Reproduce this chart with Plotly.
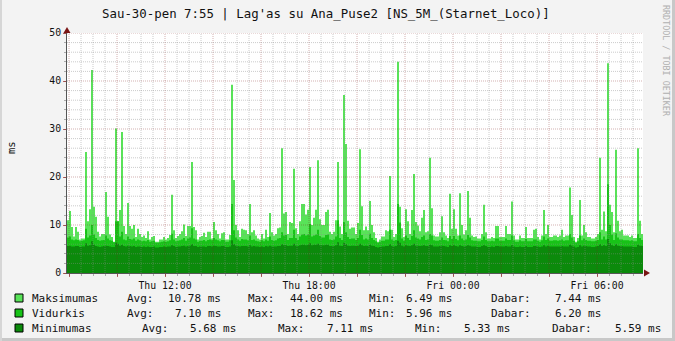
import plotly.graph_objects as go
from datetime import datetime, timedelta

# ---------------- data (5-minute samples, ms) ----------------
maksimumas = [
    11, 12.9, 9.6, 7.6, 9.6, 8.6, 7, 7.2, 7.2, 25.2, 10.8, 13.3,
    42.3, 13.8, 11.7, 8.6, 7.6, 8.1, 8.1, 16.9, 11.7, 8, 7.5, 6.5,
    30.1, 10.8, 13.1, 29.4, 9.8, 8.1, 14.6, 9.8, 9.2, 10, 7.5, 9.2,
    8.1, 7.5, 7.8, 7.3, 8.7, 7, 7.5, 7.7, 6.5, 6.5, 7, 7,
    7.5, 7, 7.3, 7.9, 16.3, 8.9, 7.3, 7.7, 8.1, 8.7, 10.1, 7.7,
    9.8, 9.8, 23.1, 9.6, 8.9, 7, 7.5, 7.7, 8.4, 7.5, 8.6, 8.6,
    7.2, 10.6, 8.9, 8.1, 7.2, 8.3, 8.5, 7, 7, 7.9, 39.2, 19.4,
    10, 8.9, 7.5, 9.2, 9, 8.9, 8.1, 14.4, 8.5, 8.9, 7.8, 7.2,
    7, 8.1, 7.2, 9, 7.5, 12.5, 8.5, 7.8, 8.1, 9.3, 9.5, 26,
    12.4, 12.7, 8.1, 10.6, 10.4, 21.7, 9.3, 8.1, 10.8, 14.4, 14.4, 12.2,
    13.2, 22.1, 10, 11.5, 13.2, 23.5, 11.2, 10, 10, 12.7, 13.2, 8.6,
    8.1, 8.6, 11, 23.1, 9.7, 8.1, 37.1, 26.9, 10.9, 9.2, 9.5, 9.5,
    8.1, 10.4, 25.8, 13.9, 8.9, 9.7, 8.9, 15, 10, 8.5, 7.3, 6.5,
    7, 7.6, 7.6, 8.9, 8.7, 20.2, 9, 7.5, 8.1, 44, 13.8, 9.3,
    7.5, 13.3, 10.8, 8.1, 13.1, 20.6, 10.6, 9.9, 8.7, 11.5, 13.1, 8.5,
    8.7, 24, 13.5, 7.8, 7.6, 7.6, 8.5, 11.8, 8.5, 7.8, 7.3, 16.5,
    9.2, 13.3, 9.2, 7.8, 16.6, 10, 8, 8.9, 17.1, 11.5, 7.8, 7.5,
    7.6, 7.2, 7.2, 8.1, 14.2, 8.5, 7.2, 7.2, 7.5, 7.3, 9.8, 9.8,
    7.5, 7.5, 7.5, 9.8, 8.1, 8.1, 14.9, 7.8, 7, 7, 7.8, 7.3,
    7.3, 9.6, 7.3, 7.3, 7.3, 9, 9.2, 7.5, 7, 7.8, 13.1, 8.1,
    10, 7.5, 7.5, 7.8, 7.8, 7.5, 7.8, 9, 7.5, 7.8, 7.8, 17.8,
    12.1, 7.5, 6.5, 7.3, 15.2, 7.8, 10, 8.5, 7.5, 7.5, 7.2, 7.2,
    7.5, 8.1, 24, 9, 12.8, 8.7, 43.7, 14.2, 12.7, 8.5, 25.7, 10.9,
    8.7, 9, 7.8, 7.8, 7.8, 7.5, 7.8, 7.3, 7.3, 26, 10.9, 8.1,
]

vidurkis = [
    7.4, 7.6, 7.0, 6.8, 7.0, 6.9, 6.6, 6.7, 6.8, 9.2, 7.4, 7.8,
    10.0, 8.0, 7.3, 6.9, 6.7, 6.8, 6.9, 7.8, 7.2, 6.8, 6.7, 6.4,
    10.8, 10.8, 7.6, 8.6, 7.0, 6.8, 7.6, 7.1, 7.0, 7.2, 6.7, 7.0,
    6.8, 6.6, 6.7, 6.6, 6.9, 6.5, 6.6, 6.7, 6.3, 6.3, 6.4, 6.5,
    6.6, 6.5, 6.6, 6.8, 8.2, 7.0, 6.6, 6.7, 6.8, 7.0, 7.3, 6.7,
    7.2, 7.4, 9.3, 7.2, 7.0, 6.5, 6.7, 6.7, 6.9, 6.6, 6.9, 7.0,
    6.8, 7.3, 7.0, 6.8, 6.6, 6.9, 6.9, 6.5, 6.5, 6.8, 14.4, 8.9,
    7.4, 7.0, 6.7, 7.1, 7.0, 7.0, 6.8, 7.8, 6.9, 7.0, 6.7, 6.6,
    6.5, 6.8, 6.6, 7.0, 6.7, 7.6, 6.9, 6.7, 6.8, 7.2, 7.3, 8.5,
    7.8, 7.9, 6.9, 7.3, 7.3, 9.0, 7.3, 6.9, 7.6, 8.0, 8.1, 7.8,
    8.0, 10.2, 7.6, 7.8, 8.0, 9.0, 7.7, 7.4, 7.4, 7.9, 8.0, 7.0,
    6.9, 7.0, 7.6, 11.0, 7.3, 6.9, 10.6, 8.5, 7.5, 7.1, 7.2, 7.2,
    6.9, 7.3, 9.0, 7.9, 7.0, 7.2, 7.0, 8.2, 7.3, 6.9, 6.6, 6.3,
    6.5, 6.7, 6.7, 7.0, 7.0, 9.0, 7.0, 6.7, 6.9, 14.4, 10.5, 7.2,
    6.7, 7.8, 7.3, 6.9, 7.7, 8.9, 7.4, 7.2, 7.0, 7.5, 7.8, 6.9,
    7.0, 8.1, 7.8, 6.8, 6.7, 6.7, 6.9, 7.4, 6.9, 6.8, 6.6, 7.7,
    7.1, 7.7, 7.1, 6.8, 7.8, 7.2, 6.8, 7.0, 7.9, 7.4, 6.8, 6.7,
    6.7, 6.6, 6.6, 6.9, 7.6, 6.9, 6.6, 6.6, 6.7, 6.6, 7.2, 7.2,
    6.7, 6.7, 6.7, 7.2, 6.9, 6.9, 7.8, 6.8, 6.5, 6.5, 6.8, 6.6,
    6.6, 7.1, 6.6, 6.6, 6.6, 7.0, 7.0, 6.7, 6.5, 6.8, 7.6, 6.9,
    7.2, 6.7, 6.7, 6.8, 6.8, 6.7, 6.8, 7.0, 6.7, 6.8, 6.8, 8.1,
    7.4, 6.7, 6.3, 6.6, 7.8, 6.8, 7.2, 6.9, 6.7, 6.7, 6.6, 6.6,
    6.7, 6.9, 8.5, 7.0, 7.6, 7.0, 18.5, 10.0, 8.0, 6.9, 8.3, 7.4,
    7.0, 7.0, 6.8, 6.8, 6.8, 6.7, 6.8, 6.6, 6.6, 8.1, 7.3, 6.9,
]

minimumas = [
    5.6, 5.7, 5.5, 5.5, 5.6, 5.6, 5.4, 5.5, 5.5, 6.2, 5.7, 5.8,
    6.6, 5.9, 5.6, 5.5, 5.4, 5.5, 5.6, 5.7, 5.6, 5.5, 5.4, 5.4,
    6.3, 6.1, 5.7, 5.9, 5.6, 5.5, 5.7, 5.6, 5.5, 5.6, 5.4, 5.5,
    5.5, 5.4, 5.5, 5.4, 5.5, 5.4, 5.4, 5.5, 5.3, 5.3, 5.4, 5.4,
    5.5, 5.4, 5.5, 5.5, 5.8, 5.6, 5.4, 5.5, 5.5, 5.6, 5.7, 5.5,
    5.6, 5.7, 6.0, 5.6, 5.6, 5.4, 5.5, 5.5, 5.5, 5.4, 5.6, 5.6,
    5.5, 5.7, 5.6, 5.5, 5.5, 5.6, 5.6, 5.4, 5.4, 5.5, 6.8, 6.0,
    5.7, 5.6, 5.5, 5.6, 5.6, 5.6, 5.5, 5.8, 5.5, 5.6, 5.5, 5.5,
    5.4, 5.5, 5.4, 5.6, 5.5, 5.7, 5.5, 5.5, 5.5, 5.6, 5.6, 6.0,
    5.8, 5.8, 5.6, 5.7, 5.7, 6.1, 5.7, 5.6, 5.8, 5.9, 5.9, 5.8,
    5.9, 6.2, 5.8, 5.9, 5.9, 6.1, 5.8, 5.8, 5.8, 5.9, 5.9, 5.6,
    5.6, 5.6, 5.8, 6.4, 5.7, 5.6, 6.3, 6.0, 5.7, 5.6, 5.7, 5.7,
    5.6, 5.7, 6.1, 5.8, 5.6, 5.7, 5.6, 5.9, 5.7, 5.6, 5.4, 5.3,
    5.4, 5.5, 5.5, 5.6, 5.6, 6.0, 5.6, 5.5, 5.6, 6.7, 6.3, 5.7,
    5.5, 5.8, 5.7, 5.6, 5.8, 6.1, 5.7, 5.7, 5.6, 5.7, 5.8, 5.6,
    5.6, 5.9, 5.8, 5.5, 5.5, 5.5, 5.6, 5.7, 5.6, 5.5, 5.4, 5.8,
    5.6, 5.8, 5.6, 5.5, 5.8, 5.6, 5.5, 5.6, 5.8, 5.7, 5.5, 5.5,
    5.5, 5.4, 5.4, 5.6, 5.8, 5.6, 5.4, 5.4, 5.5, 5.4, 5.6, 5.6,
    5.5, 5.5, 5.5, 5.6, 5.5, 5.5, 5.8, 5.5, 5.4, 5.4, 5.5, 5.4,
    5.4, 5.6, 5.4, 5.4, 5.4, 5.6, 5.6, 5.5, 5.4, 5.5, 5.8, 5.5,
    5.7, 5.5, 5.5, 5.5, 5.5, 5.5, 5.5, 5.6, 5.5, 5.5, 5.5, 5.9,
    5.7, 5.5, 5.3, 5.4, 5.8, 5.5, 5.7, 5.6, 5.5, 5.5, 5.4, 5.4,
    5.5, 5.6, 6.0, 5.6, 5.8, 5.6, 7.1, 6.2, 5.8, 5.6, 6.0, 5.7,
    5.6, 5.6, 5.5, 5.5, 5.5, 5.5, 5.5, 5.4, 5.4, 5.9, 5.7, 5.6,
]

series_names = ["Maksimumas", "Vidurkis", "Minimumas"]
stat_avg = [10.78, 7.10, 5.68]
stat_max = [44.00, 18.62, 7.11]
stat_min = [6.49, 5.96, 5.33]
stat_now = [7.44, 6.20, 5.59]

title_text = "Sau-30-pen 7:55 | Lag'as su Ana_Puse2 [NS_5M_(Starnet_Loco)]"
y_label = "ms"
watermark = "RRDTOOL / TOBI OETIKER"
x_label_times = ["2015-01-29 12:00", "2015-01-29 18:00", "2015-01-30 00:00", "2015-01-30 06:00"]
x_tick_labels = ["Thu 12:00", "Thu 18:00", "Fri 00:00", "Fri 06:00"]
y_ticks = [0, 10, 20, 30, 40, 50]

# ---------------- layout geometry & style ----------------
W, H = 675, 341
L, R, T, B = 67, 32, 33, 68
PW, PH = W - L - R, H - T - B
FONT = "DejaVu Sans Mono"
colors = ["#58e358", "#17c317", "#0b8a0b"]
MINOR_GRID = "rgba(140,140,140,0.45)"
MAJOR_GRID = "rgba(130,30,30,0.35)"


def px(x):
    return (x - L) / PW


def py(y):
    return (H - B - y) / PH


start = datetime(2015, 1, 29, 7, 55)
end = start + timedelta(hours=24)
step = timedelta(minutes=5)

fig = go.Figure()
for name, vals, col in zip(series_names, [maksimumas, vidurkis, minimumas], colors):
    n = len(vals)
    xs = [start + i * step for i in range(n + 1)]
    ys = list(vals) + [vals[-1]]
    fig.add_trace(go.Scatter(
        x=xs, y=ys, mode="lines", line=dict(width=0, shape="hv", color=col),
        fill="tozeroy", fillcolor=col, name=name, hoverinfo="skip", showlegend=False,
    ))

shapes = []
# vertical grid (30 min minor, 2 h major), drawn above the areas like rrdtool
t = datetime(2015, 1, 29, 8, 0)
while t < end:
    major = (t.minute == 0 and t.hour % 2 == 0)
    shapes.append(dict(type="line", xref="x", yref="paper", x0=t, x1=t, y0=0, y1=1,
                       layer="above",
                       line=dict(color=MAJOR_GRID if major else MINOR_GRID, width=1, dash="1px,1px")))
    t += timedelta(minutes=30)
# horizontal grid (2 minor, 10 major)
for v in range(2, 51, 2):
    major = v % 10 == 0
    shapes.append(dict(type="line", xref="paper", yref="y", x0=0, x1=1, y0=v, y1=v,
                       layer="above",
                       line=dict(color=MAJOR_GRID if major else MINOR_GRID, width=1, dash="1px,1px")))

# axis arrows
ARROW = "#7a1515"
shapes.append(dict(type="path", xref="paper", yref="paper", layer="above",
                   path=f"M {px(L-3.5)} {py(T)} L {px(L)} {py(T-6)} L {px(L+3.5)} {py(T)} Z",
                   fillcolor=ARROW, line=dict(width=0)))
shapes.append(dict(type="path", xref="paper", yref="paper", layer="above",
                   path=f"M {px(W-R+1)} {py(H-B-3.5)} L {px(W-R+7)} {py(H-B)} L {px(W-R+1)} {py(H-B+3.5)} Z",
                   fillcolor=ARROW, line=dict(width=0)))

# frame shading
shapes.append(dict(type="rect", xref="paper", yref="paper", layer="above",
                   x0=px(W - 3), x1=px(W), y0=py(H), y1=py(0), fillcolor="#c8c8c8", line=dict(width=0)))
shapes.append(dict(type="rect", xref="paper", yref="paper", layer="above",
                   x0=px(0), x1=px(W), y0=py(H), y1=py(H - 3), fillcolor="#c8c8c8", line=dict(width=0)))
shapes.append(dict(type="rect", xref="paper", yref="paper", layer="above",
                   x0=px(0), x1=px(2), y0=py(H), y1=py(0), fillcolor="#d6d6d6", line=dict(width=0)))

annotations = []
# title
annotations.append(dict(text=title_text, xref="paper", yref="paper", x=px(326), y=py(13),
                        xanchor="center", yanchor="middle", showarrow=False,
                        font=dict(family=FONT, size=12.4, color="#111111")))
# y label
annotations.append(dict(text=y_label, xref="paper", yref="paper", x=px(11), y=py(148),
                        xanchor="center", yanchor="middle", showarrow=False, textangle=-90,
                        font=dict(family=FONT, size=10.5, color="#111111")))
# watermark
annotations.append(dict(text=watermark, xref="paper", yref="paper", x=px(666), y=py(61),
                        xanchor="center", yanchor="middle", showarrow=False, textangle=90,
                        font=dict(family=FONT, size=8.4, color="#b0b0b0")))

# legend rows
row_y = [298, 313, 328]
col_x = [
    [30.3, 124.6, 165.7, 245.8, 288.2, 366.9, 403.7, 489, 553],
    [30.3, 124.6, 172.6, 245.8, 288.2, 366.9, 403.7, 489, 553],
    [30.3, 139.8, 188.2, 276.1, 325.4, 413.2, 462.1, 550.4, 612.6],
]
for i, name in enumerate(series_names):
    yc = row_y[i]
    shapes.append(dict(type="rect", xref="paper", yref="paper",
                       x0=px(15), x1=px(23), y0=py(yc - 4), y1=py(yc + 4),
                       fillcolor=colors[i], line=dict(color="#000000", width=1)))
    pieces = [name, "Avg:", f"{stat_avg[i]:.2f} ms", "Max:", f"{stat_max[i]:.2f} ms",
              "Min:", f"{stat_min[i]:.2f} ms", "Dabar:", f"{stat_now[i]:.2f} ms"]
    for txt, xx in zip(pieces, col_x[i]):
        annotations.append(dict(text=txt, xref="paper", yref="paper", x=px(xx), y=py(yc),
                                xanchor="left", yanchor="middle", showarrow=False,
                                font=dict(family=FONT, size=11.0, color="#111111")))

# x ticks every 2 h, labels every 6 h
tickvals, ticktext = [], []
t = datetime(2015, 1, 29, 8, 0)
label_map = dict(zip(x_label_times, x_tick_labels))
while t < end:
    tickvals.append(t)
    ticktext.append(label_map.get(t.strftime("%Y-%m-%d %H:%M"), ""))
    t += timedelta(hours=2)

fig.update_layout(
    width=W, height=H,
    margin=dict(l=L, r=R, t=T, b=B, pad=0),
    paper_bgcolor="#f3f3f3", plot_bgcolor="#ffffff",
    shapes=shapes, annotations=annotations,
    font=dict(family=FONT, size=9.8, color="#111111"),
    xaxis=dict(type="date", range=[start, end], tickmode="array", tickvals=tickvals, ticktext=ticktext,
               showgrid=False, zeroline=False, showline=True, linecolor="#555555", linewidth=1,
               ticks="outside", ticklen=3, tickcolor="rgba(150,40,40,0.7)",
               tickfont=dict(family=FONT, size=9.8, color="#111111"),
               minor=dict(dtick=30 * 60 * 1000, tick0=datetime(2015, 1, 29, 8, 0), ticks="outside",
                          ticklen=2, tickcolor="rgba(140,140,140,0.7)", showgrid=False),
               fixedrange=True),
    yaxis=dict(range=[0, 50], tickmode="array", tickvals=y_ticks,
               showgrid=False, zeroline=False, showline=True, linecolor="#555555", linewidth=1,
               ticks="outside", ticklen=3, tickcolor="rgba(150,40,40,0.7)",
               tickfont=dict(family=FONT, size=9.8, color="#111111"),
               minor=dict(dtick=2, ticks="outside", ticklen=2, tickcolor="rgba(140,140,140,0.7)",
                          showgrid=False),
               fixedrange=True),
)

fig.write_html("out.html")
